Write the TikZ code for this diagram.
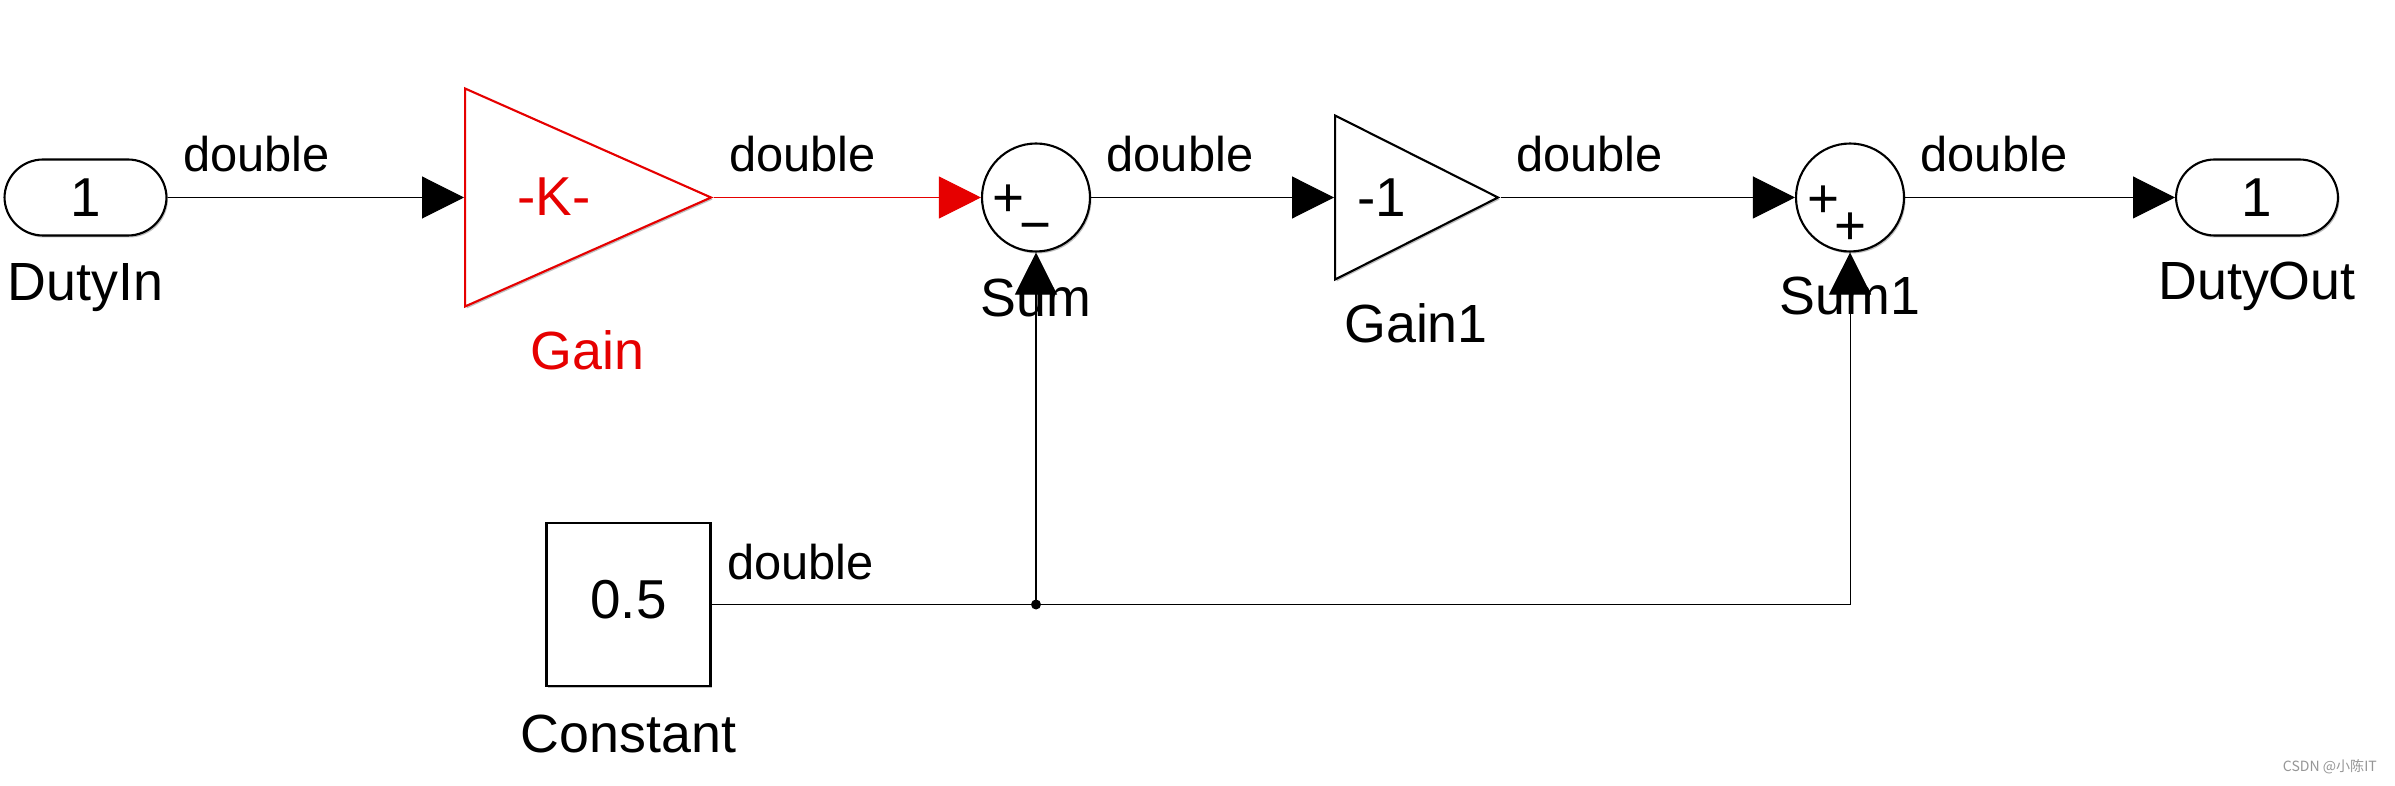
\documentclass[tikz,border=0pt]{standalone}
\usepackage{fontspec}
\setmainfont{Liberation Sans}
\newfontfamily\cjk{Noto Sans CJK SC}
\usetikzlibrary{arrows.meta,shapes.geometric,shadows}
\definecolor{selred}{RGB}{230,0,0}
\definecolor{markgray}{RGB}{150,150,150}

\newcommand{\sigfont}{\fontsize{27.8pt}{30pt}\selectfont}
\newcommand{\namefont}{\fontsize{30.6pt}{33pt}\selectfont}
\newcommand{\blkfont}{\fontsize{31.2pt}{34pt}\selectfont}

\begin{document}
\begin{tikzpicture}[
    x={(0.02cm,0cm)},
    y={(0cm,-0.02cm)},
    blkshadow/.style={drop shadow={shadow xshift=0.03cm, shadow yshift=-0.04cm, fill=black, opacity=0.25}},
    port/.style={draw, fill=white, line width=1.2pt, rounded corners=0.77cm,
        minimum width=3.24cm, minimum height=1.52cm, inner sep=0pt, font=\blkfont, blkshadow},
    gainblk/.style={isosceles triangle, isosceles triangle stretches, draw, fill=white,
        line width=1.2pt, inner sep=0pt, anchor=west, blkshadow},
    sumblk/.style={circle, draw, fill=white, line width=1.2pt, minimum size=2.16cm,
        inner sep=0pt, blkshadow},
    constblk/.style={rectangle, draw, fill=white, line width=1.2pt, minimum width=3.28cm,
        minimum height=3.26cm, font=\blkfont, text depth=0.2cm, blkshadow},
    sign/.style={font=\blkfont, anchor=base, inner sep=0pt},
    blkname/.style={font=\namefont, anchor=base, inner sep=0pt},
    sigline/.style={line width=0.6pt, -{Triangle[length=0.84cm,width=0.84cm]}},
    siglabel/.style={font=\sigfont, text=black, anchor=base west, inner sep=0pt,
        xshift=0.3cm, yshift=0.51cm}]

    \path[use as bounding box, fill=white] (0,0) rectangle (2395,786);

    % Blocks
    \node[port] (dutyin) at (85.5,197.5) {1};
    \node[gainblk, draw=selred, minimum width=4.36cm, minimum height=4.92cm] (gain) at (464,197.5) {};
    \node[font=\blkfont, text=selred] (gainval) at (554,197) {-K-};
    \node[sumblk] (sum) at (1036,197.5) {};
    \node[sign] (sumplus) at (1008,217) {+};
    \node[sign] (summinus) at (1035,243.4) {−};
    \node[gainblk, minimum width=3.28cm, minimum height=3.26cm] (gain1) at (1334,197.5) {};
    \node[font=\blkfont] (gain1val) at (1382,197.5) {-1};
    \node[sumblk] (sum1) at (1850,197.5) {};
    \node[sign] (sum1plusa) at (1823,217.4) {+};
    \node[sign] (sum1plusb) at (1850,244.4) {+};
    \node[port] (dutyout) at (2257,197.5) {1};
    \node[constblk] (const) at (628.5,604.5) {0.5};

    % Block names
    \node[blkname] (dutyinname) at (85.5,301) {DutyIn};
    \node[blkname, text=selred] (gainname) at (587.5,370) {Gain};
    \node[blkname] (sumname) at (1036,317) {Sum};
    \node[blkname] (gain1name) at (1416,343) {Gain1};
    \node[blkname] (sum1name) at (1850,315) {Sum1};
    \node[blkname] (dutyoutname) at (2257,300) {DutyOut};
    \node[blkname] (constname) at (628.5,752) {Constant};

    % Signals
    \draw[sigline] (dutyin.east) -- node[siglabel, pos=0] {double} (gain.west);
    \draw[sigline, selred] (gain.apex) -- node[siglabel, pos=0] {double} (sum.west);
    \draw[sigline] (sum.east) -- node[siglabel, pos=0] {double} (gain1.west);
    \draw[sigline] (gain1.apex) -- node[siglabel, pos=0] {double} (sum1.west);
    \draw[sigline] (sum1.east) -- node[siglabel, pos=0] {double} (dutyout.west);
    \coordinate (branch) at (sum.south |- const.east);
    \draw[sigline] (const.east) -- node[siglabel, pos=0] {double} (branch) -| (sum1.south);
    \draw[sigline] (branch) -- (sum.south);
    \fill (branch) circle (5);

    \node[font=\cjk\fontsize{8pt}{9pt}\selectfont, text=markgray, anchor=east] (mark) at (2383,767) {CSDN @小陈IT};
\end{tikzpicture}
\end{document}
